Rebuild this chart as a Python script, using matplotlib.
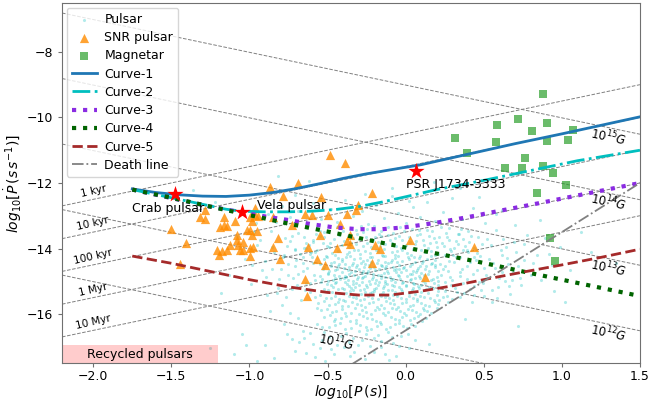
import numpy as np
import matplotlib
matplotlib.use("Agg")
import matplotlib.pyplot as plt

# ---- data ----
# evolutionary curves: log10 P, log10 Pdot
c1_p = [-1.75, -1.6, -1.45, -1.3, -1.15, -1.0, -0.85, -0.7, -0.55, -0.4, -0.25, -0.1, 0.1, 0.4, 0.7, 1.0, 1.25, 1.5]
c1_pd = [-12.18, -12.29, -12.36, -12.40, -12.41, -12.37, -12.29, -12.17, -12.02, -11.86, -11.72, -11.60, -11.44, -11.12, -10.80, -10.50, -10.24, -9.98]

c2_p = [-1.75, -1.6, -1.45, -1.3, -1.15, -1.05, -0.9, -0.75, -0.6, -0.45, -0.3, -0.15, 0.0, 0.2, 0.5, 0.8, 1.1, 1.5]
c2_pd = [-12.2, -12.35, -12.5, -12.65, -12.8, -12.86, -12.88, -12.88, -12.86, -12.81, -12.72, -12.58, -12.42, -12.2, -11.92, -11.62, -11.32, -11.0]

c3_p = [-1.75, -1.5, -1.25, -1.05, -0.9, -0.75, -0.6, -0.45, -0.3, -0.15, 0.0, 0.2, 0.4, 0.6, 0.86, 1.1, 1.3, 1.5]
c3_pd = [-12.2, -12.46, -12.72, -12.9, -13.02, -13.13, -13.26, -13.36, -13.41, -13.41, -13.35, -13.21, -13.04, -12.85, -12.61, -12.38, -12.19, -12.0]

c4_p = [-1.75, -1.5, -1.25, -1.0, -0.75, -0.5, -0.25, 0.0, 0.25, 0.5, 0.75, 1.0, 1.25, 1.5]
c4_pd = [-12.2, -12.45, -12.72, -12.98, -13.24, -13.48, -13.73, -13.97, -14.2, -14.44, -14.7, -14.95, -15.2, -15.45]

c5_p = [-1.75, -1.5, -1.25, -1.0, -0.75, -0.5, -0.3, -0.1, 0.1, 0.3, 0.5, 0.75, 1.0, 1.25, 1.5]
c5_pd = [-14.23, -14.45, -14.7, -14.95, -15.17, -15.34, -15.42, -15.42, -15.3, -15.14, -14.95, -14.72, -14.5, -14.27, -14.02]

death_p = [-2.2, 1.5]
death_pd = [-23.1, -12.0]

# named pulsars
star_names = ["Crab pulsar", "Vela pulsar", "PSR J1734-3333"]
star_p = [-1.476, -1.05, 0.066]
star_pd = [-12.34, -12.87, -11.62]

# magnetars
mag_p = [0.877, 0.717, 0.583, 0.907, 0.811, 1.074, 0.316, 0.576, 0.907, 1.041,
         0.395, 0.762, 0.638, 0.745, 0.881, 0.941, 1.027, 0.843, 0.924, 0.958]
mag_pd = [-9.27, -10.04, -10.23, -10.18, -10.41, -10.38, -10.63, -10.74, -10.71, -10.70,
          -11.09, -11.23, -11.55, -11.55, -11.47, -11.69, -12.06, -12.31, -13.67, -14.38]

# pulsars with SNR association
snr_p = [-0.484, -0.388, -0.868, -0.689, -0.785, -0.542, -0.215, -0.305, -0.964, -1.284,
         -1.317, -1.284, -1.163, -1.163, -1.092, -0.996, -0.964, -0.984, -0.945, -0.849,
         -0.644, -0.599, -0.497, -0.375, -0.420, -0.728, -0.548, -0.356, -0.996, -0.984,
         -0.952, -0.817, -0.375, -0.849, -0.625, -0.439, -1.060, -0.996, -0.804, -0.516,
         -0.644, -0.631, 0.028, -0.196, -0.164, -0.215, 0.124, 0.438, -1.502, -1.406,
         -1.445, -1.188, -1.144, -1.016, -1.080, -1.208, -1.144, -1.041, -0.977, -1.080,
         -1.041, -1.124, -1.073, -1.176, -1.195, -0.567, -0.356, -0.318, -0.996]
snr_pd = [-11.14, -11.38, -12.11, -11.99, -12.39, -12.42, -12.30, -12.66, -12.75, -12.81,
          -13.05, -13.09, -13.05, -13.27, -13.17, -13.05, -12.99, -13.17, -13.02, -13.05,
          -12.94, -12.97, -12.97, -12.94, -13.24, -13.27, -13.58, -13.58, -13.42, -13.58,
          -13.45, -13.67, -13.76, -13.94, -13.94, -13.97, -14.03, -13.97, -14.33, -14.49,
          -14.92, -15.44, -13.73, -13.88, -14.00, -14.43, -14.86, -13.94, -13.39, -13.82,
          -14.46, -13.33, -13.30, -13.42, -13.73, -14.03, -14.03, -14.03, -13.94, -13.58,
          -13.79, -13.88, -13.88, -14.09, -14.19, -14.33, -13.85, -12.81, -14.22]

# ordinary pulsars (log P, log Pdot), read region by region
pulsar_pts = [
    (-0.52, -14.33), (-0.41, -14.37), (-0.33, -14.31), (-0.27, -14.39), (-0.18, -14.34), (-0.09, -14.36),
    (0.02, -14.32), (0.11, -14.38), (0.19, -14.35), (-0.46, -14.40), (-0.22, -14.42), (0.06, -14.41),
    (-0.55, -14.47), (-0.48, -14.52), (-0.39, -14.46), (-0.31, -14.51), (-0.26, -14.47), (-0.15, -14.53),
    (-0.11, -14.45), (-0.04, -14.50), (0.04, -14.48), (0.13, -14.54), (0.22, -14.46), (-0.36, -14.56),
    (-0.20, -14.57), (-0.01, -14.56), (0.08, -14.58), (-0.53, -14.63), (-0.44, -14.61), (-0.37, -14.66),
    (-0.30, -14.62), (-0.24, -14.68), (-0.17, -14.63), (-0.12, -14.69), (-0.06, -14.62), (0.00, -14.67),
    (0.07, -14.64), (0.15, -14.70), (0.24, -14.62), (-0.41, -14.72), (-0.28, -14.74), (-0.14, -14.76),
    (-0.03, -14.73), (0.10, -14.75), (-0.50, -14.77), (-0.55, -14.84), (-0.46, -14.81), (-0.38, -14.86),
    (-0.33, -14.80), (-0.26, -14.83), (-0.21, -14.88), (-0.16, -14.81), (-0.10, -14.86), (-0.05, -14.80),
    (0.01, -14.85), (0.06, -14.89), (0.12, -14.82), (0.20, -14.87), (-0.42, -14.92), (-0.31, -14.94),
    (-0.19, -14.96), (-0.08, -14.93), (0.03, -14.97), (0.16, -14.95), (-0.50, -14.98), (-0.54, -15.03),
    (-0.45, -15.06), (-0.39, -15.01), (-0.34, -15.08), (-0.28, -15.02), (-0.23, -15.07), (-0.17, -15.03),
    (-0.12, -15.09), (-0.07, -15.02), (-0.02, -15.06), (0.05, -15.04), (0.10, -15.10), (0.18, -15.05),
    (0.25, -15.01), (-0.48, -15.12), (-0.36, -15.14), (-0.25, -15.16), (-0.14, -15.13), (-0.04, -15.17),
    (0.08, -15.15), (-0.52, -15.22), (-0.43, -15.25), (-0.35, -15.21), (-0.29, -15.27), (-0.20, -15.23),
    (-0.11, -15.28), (-0.03, -15.22), (0.04, -15.26), (0.13, -15.24), (0.21, -15.29), (-0.47, -15.33),
    (-0.38, -15.36), (-0.26, -15.32), (-0.16, -15.38), (-0.07, -15.34), (0.02, -15.37), (0.10, -15.33),
    (-0.32, -15.41), (-0.12, -15.43), (0.06, -15.40),
    (-0.34, -14.43), (-0.13, -14.41), (0.17, -14.43), (-0.23, -14.59), (-0.08, -14.55), (0.19, -14.57),
    (-0.35, -14.71), (-0.21, -14.78), (0.04, -14.79), (-0.28, -14.91), (-0.13, -14.99), (-0.37, -14.97),
    (0.11, -14.99), (-0.30, -15.11), (-0.19, -15.19), (-0.09, -15.11), (0.15, -15.17), (-0.41, -15.19),
    (-0.23, -15.35), (0.00, -15.12), (-0.45, -14.89), (-0.06, -14.71), (0.09, -14.52), (-0.49, -14.69),
    (-0.16, -14.49),
    (-0.505, -14.255), (-0.435, -14.275), (-0.355, -14.235), (-0.295, -14.285), (-0.215, -14.265),
    (-0.145, -14.225), (-0.065, -14.295), (0.015, -14.245), (0.085, -14.275), (0.165, -14.215),
    (-0.475, -14.445), (-0.425, -14.485), (-0.345, -14.505), (-0.285, -14.435), (-0.235, -14.515),
    (-0.185, -14.455), (-0.125, -14.535), (-0.055, -14.425), (0.025, -14.525), (0.105, -14.445), (0.185, -14.505),
    (-0.525, -14.555), (-0.455, -14.655), (-0.395, -14.595), (-0.325, -14.685), (-0.265, -14.575),
    (-0.195, -14.645), (-0.135, -14.585), (-0.075, -14.665), (-0.015, -14.605), (0.045, -14.695),
    (0.125, -14.625), (0.205, -14.675), (-0.495, -14.745), (-0.425, -14.825), (-0.365, -14.765),
    (-0.305, -14.855), (-0.245, -14.735), (-0.175, -14.805), (-0.115, -14.745), (-0.045, -14.835),
    (0.025, -14.765), (0.085, -14.845), (0.145, -14.785), (0.225, -14.805), (-0.535, -14.925),
    (-0.465, -14.965), (-0.395, -14.905), (-0.335, -14.985), (-0.275, -14.875), (-0.215, -14.945),
    (-0.155, -14.895), (-0.095, -14.975), (-0.035, -14.915), (0.035, -14.935), (0.095, -14.905),
    (0.175, -14.925), (-0.505, -15.075), (-0.445, -15.015), (-0.375, -15.095), (-0.315, -15.045),
    (-0.255, -15.115), (-0.195, -15.055), (-0.135, -15.065), (-0.075, -15.135), (-0.015, -15.025),
    (0.055, -15.085), (0.125, -15.045), (0.205, -15.115), (-0.465, -15.185), (-0.395, -15.245),
    (-0.325, -15.175), (-0.265, -15.235), (-0.205, -15.285), (-0.145, -15.205), (-0.085, -15.255),
    (-0.025, -15.295), (0.045, -15.195), (0.115, -15.275), (0.175, -15.215), (-0.425, -15.345),
    (-0.355, -15.305), (-0.285, -15.375), (-0.215, -15.325), (-0.145, -15.315), (-0.055, -15.385),
    (0.035, -15.315), (0.145, -15.365), (-0.405, -14.325), (-0.245, -14.365), (-0.025, -14.385),
    (0.135, -14.325), (-0.315, -14.575), (-0.045, -14.625), (0.165, -14.465), (-0.385, -14.825),
    (-0.135, -14.865), (0.065, -14.725), (-0.235, -14.985), (0.005, -15.155), (-0.335, -15.265),
    (-0.175, -15.105), (0.085, -15.215), (-0.495, -15.275), (-0.275, -14.695), (-0.095, -14.405),
    (0.205, -14.985), (-0.435, -14.545),
    (-0.78, -14.21), (-0.71, -14.05), (-0.66, -14.27), (-0.62, -13.88), (-0.58, -14.12), (-0.55, -13.62),
    (-0.51, -14.23), (-0.49, -13.95), (-0.46, -13.71), (-0.43, -14.09), (-0.40, -13.48), (-0.38, -14.26),
    (-0.35, -13.83), (-0.33, -14.03), (-0.31, -13.57), (-0.29, -14.17), (-0.27, -13.92), (-0.25, -13.41),
    (-0.23, -14.25), (-0.21, -13.74), (-0.19, -14.06), (-0.17, -13.55), (-0.15, -14.19), (-0.13, -13.86),
    (-0.11, -13.35), (-0.09, -14.11), (-0.07, -13.67), (-0.05, -14.24), (-0.03, -13.97), (-0.01, -13.46),
    (0.01, -14.14), (0.03, -13.79), (0.05, -14.02), (0.07, -13.58), (0.09, -14.22), (0.12, -13.88),
    (0.14, -13.44), (0.16, -14.07), (0.18, -13.69), (0.21, -14.18), (0.23, -13.83), (0.26, -13.52),
    (0.29, -14.09), (0.32, -13.76), (0.35, -14.25), (0.38, -13.93), (0.42, -13.61), (0.46, -14.13),
    (0.49, -13.85), (-0.74, -13.77), (-0.69, -13.52), (-0.61, -14.18), (-0.53, -13.84), (-0.47, -14.15),
    (-0.41, -13.89), (-0.36, -14.12), (-0.30, -13.72), (-0.26, -14.08), (-0.22, -13.94), (-0.18, -13.81),
    (-0.14, -14.02), (-0.10, -13.73), (-0.06, -13.91), (-0.02, -14.06), (0.02, -13.64), (0.06, -13.87),
    (0.10, -14.04), (0.15, -13.61), (0.20, -13.96), (0.25, -14.21), (0.31, -13.98), (0.37, -13.71),
    (0.44, -14.27), (-0.57, -13.38), (-0.44, -13.33), (-0.32, -13.43), (-0.20, -13.31), (-0.08, -13.52),
    (0.04, -13.39), (0.17, -13.47), (0.28, -13.36), (0.40, -13.45), (-0.65, -13.66), (-0.52, -13.50),
    (-0.37, -13.62), (-0.16, -13.63), (0.11, -13.74), (0.34, -13.57),
    (-0.635, -13.985), (-0.595, -13.725), (-0.565, -14.045), (-0.525, -13.655), (-0.485, -13.825),
    (-0.455, -14.195), (-0.425, -13.575), (-0.395, -13.765), (-0.365, -13.955), (-0.335, -13.685),
    (-0.305, -14.055), (-0.275, -13.495), (-0.245, -13.825), (-0.225, -14.135), (-0.195, -13.635),
    (-0.165, -13.915), (-0.135, -14.215), (-0.115, -13.585), (-0.085, -13.835), (-0.055, -14.075),
    (-0.025, -13.725), (0.005, -13.905), (0.035, -14.195), (0.065, -13.775), (0.095, -13.545),
    (0.125, -14.115), (0.155, -13.845), (0.185, -14.205), (0.215, -13.635), (0.245, -13.925),
    (0.275, -13.745), (0.305, -14.185), (0.335, -13.865), (0.365, -14.045), (0.405, -13.795),
    (0.435, -13.975), (-0.545, -13.455), (-0.415, -13.385), (-0.285, -13.325), (-0.155, -13.455),
    (-0.035, -13.355), (0.085, -13.425), (0.225, -13.335), (0.355, -13.415), (-0.605, -14.105),
    (-0.505, -13.925), (-0.375, -14.155), (-0.255, -13.635), (-0.045, -13.605), (0.145, -13.985),
    (0.285, -14.025), (-0.175, -14.085), (-0.065, -14.185), (0.055, -14.245), (-0.315, -13.855),
    (0.195, -13.795),
    (-0.96, -13.22), (-0.88, -12.95), (-0.83, -13.18), (-0.79, -12.71), (-0.74, -13.05), (-0.69, -12.86),
    (-0.63, -13.27), (-0.59, -12.62), (-0.54, -13.11), (-0.48, -12.79), (-0.44, -13.19), (-0.39, -12.53),
    (-0.34, -13.02), (-0.28, -12.84), (-0.24, -13.24), (-0.19, -12.68), (-0.14, -13.07), (-0.09, -12.41),
    (-0.05, -12.93), (0.00, -13.21), (0.05, -12.72), (0.09, -13.04), (0.14, -12.57), (0.19, -13.16),
    (0.24, -12.88), (0.30, -12.46), (0.36, -13.09), (0.43, -12.77), (0.51, -13.23), (0.58, -12.96),
    (-0.71, -12.38), (-0.26, -12.33), (0.12, -12.29), (-0.55, -12.51), (0.02, -12.55),
    (-0.58, -15.47), (-0.51, -15.52), (-0.45, -15.45), (-0.40, -15.56), (-0.34, -15.49), (-0.29, -15.58),
    (-0.24, -15.46), (-0.18, -15.54), (-0.13, -15.48), (-0.08, -15.57), (-0.03, -15.51), (0.02, -15.46),
    (0.07, -15.55), (0.12, -15.49), (0.18, -15.58), (0.24, -15.47), (0.30, -15.53), (-0.56, -15.66),
    (-0.49, -15.72), (-0.43, -15.63), (-0.37, -15.75), (-0.31, -15.68), (-0.26, -15.79), (-0.21, -15.64),
    (-0.16, -15.73), (-0.10, -15.67), (-0.05, -15.78), (0.00, -15.62), (0.05, -15.71), (0.10, -15.65),
    (0.15, -15.76), (0.21, -15.69), (0.27, -15.63), (-0.54, -15.88), (-0.47, -15.94), (-0.41, -15.85),
    (-0.35, -15.97), (-0.28, -15.89), (-0.22, -15.99), (-0.17, -15.86), (-0.11, -15.93), (-0.06, -15.84),
    (-0.01, -15.96), (0.04, -15.88), (0.09, -15.99), (0.14, -15.91), (0.20, -15.83), (-0.52, -16.09),
    (-0.45, -16.15), (-0.38, -16.06), (-0.32, -16.18), (-0.25, -16.11), (-0.19, -16.21), (-0.13, -16.04),
    (-0.07, -16.14), (-0.02, -16.08), (0.03, -16.19), (0.08, -16.05), (0.13, -16.12), (-0.57, -16.31),
    (-0.49, -16.38), (-0.42, -16.27), (-0.35, -16.42), (-0.29, -16.33), (-0.22, -16.46), (-0.16, -16.29),
    (-0.10, -16.39), (-0.04, -16.26), (0.01, -16.44), (0.06, -16.35), (-0.39, -15.61), (-0.14, -15.83),
    (0.11, -15.81), (-0.30, -16.01), (-0.08, -15.41), (0.20, -15.42), (-0.46, -16.22),
    (-0.545, -15.425), (-0.475, -15.505), (-0.425, -15.535), (-0.365, -15.445), (-0.315, -15.525),
    (-0.265, -15.555), (-0.215, -15.495), (-0.155, -15.445), (-0.105, -15.525), (-0.055, -15.455),
    (0.005, -15.545), (0.045, -15.495), (0.095, -15.435), (0.155, -15.515), (0.215, -15.565),
    (0.265, -15.455), (-0.525, -15.605), (-0.455, -15.685), (-0.405, -15.745), (-0.345, -15.625),
    (-0.285, -15.715), (-0.235, -15.655), (-0.185, -15.775), (-0.125, -15.605), (-0.075, -15.705),
    (-0.025, -15.655), (0.025, -15.765), (0.075, -15.615), (0.125, -15.725), (0.185, -15.635),
    (-0.505, -15.835), (-0.445, -15.905), (-0.385, -15.955), (-0.325, -15.825), (-0.255, -15.935),
    (-0.195, -15.875), (-0.145, -15.975), (-0.085, -15.815), (-0.035, -15.905), (0.015, -15.855),
    (0.065, -15.935), (0.115, -15.865), (0.165, -15.955), (-0.485, -16.035), (-0.415, -16.125),
    (-0.355, -16.225), (-0.275, -16.065), (-0.215, -16.155), (-0.165, -16.255), (-0.095, -16.075),
    (-0.045, -16.185), (0.005, -16.035), (0.055, -16.135), (0.105, -16.215), (-0.535, -16.405),
    (-0.455, -16.345), (-0.385, -16.445), (-0.315, -16.285), (-0.255, -16.395), (-0.185, -16.355),
    (-0.125, -16.445), (-0.065, -16.315), (-0.015, -16.375), (0.035, -16.295),
    (-0.76, -16.62), (-0.68, -16.85), (-0.61, -16.57), (-0.55, -17.04), (-0.49, -16.71), (-0.44, -16.93),
    (-0.38, -16.58), (-0.33, -17.15), (-0.28, -16.79), (-0.23, -16.98), (-0.18, -16.64), (-0.13, -17.21),
    (-0.08, -16.87), (-0.03, -16.66), (0.02, -17.05), (-0.71, -17.12), (-0.58, -17.31), (-0.46, -17.22),
    (-0.36, -16.86), (-0.26, -17.36), (-0.16, -17.02), (-0.06, -17.28), (-0.52, -16.55), (-0.30, -16.52),
    (-0.11, -16.55), (-0.90, -16.95), (-0.84, -17.35), (-0.65, -16.72), (0.06, -16.80), (-0.20, -16.73),
    (-0.725, -16.765), (-0.655, -16.525), (-0.595, -16.905), (-0.535, -16.785), (-0.475, -17.075),
    (-0.415, -16.655), (-0.355, -17.285), (-0.305, -16.935), (-0.255, -16.615), (-0.205, -17.155),
    (-0.155, -16.815), (-0.105, -17.395), (-0.045, -16.965), (0.015, -16.595), (-0.635, -17.185),
    (-0.515, -17.445), (-0.395, -17.015), (-0.245, -16.485), (-0.085, -16.705), (-0.335, -16.725),
    (-1.08, -13.62), (-1.03, -14.31), (-0.99, -15.07), (-0.95, -13.88), (-0.92, -14.66), (-0.89, -15.42),
    (-0.86, -13.45), (-0.84, -14.12), (-0.81, -14.93), (-0.79, -15.71), (-0.77, -13.69), (-0.75, -14.47),
    (-0.73, -15.24), (-0.71, -14.02), (-0.69, -14.79), (-0.67, -15.56), (-0.65, -13.97), (-0.63, -14.58),
    (-0.61, -15.33), (-0.60, -14.26), (-0.58, -14.95), (-0.57, -15.81), (-0.90, -14.38), (-0.82, -15.19),
    (-0.76, -13.93), (-0.70, -14.34), (-0.64, -15.05), (-0.97, -13.51), (-1.13, -14.82), (-0.87, -15.91),
    (-0.74, -15.96), (-0.66, -14.43), (-0.59, -13.79), (-0.80, -14.63), (-0.72, -14.91),
    (-0.985, -14.515), (-0.935, -13.735), (-0.895, -14.855), (-0.855, -13.965), (-0.825, -15.365),
    (-0.785, -14.245), (-0.755, -14.805), (-0.725, -13.605), (-0.695, -15.125), (-0.675, -14.165),
    (-0.655, -14.695), (-0.635, -13.845), (-0.615, -15.045), (-0.595, -14.435), (-0.575, -13.565),
    (-0.855, -14.635), (-0.765, -15.485), (-0.705, -14.545), (-0.645, -15.275), (-0.585, -14.815),
    (0.27, -14.68), (0.29, -15.12), (0.31, -14.41), (0.33, -15.33), (0.35, -14.84), (0.37, -15.06),
    (0.39, -14.52), (0.41, -15.24), (0.43, -14.77), (0.45, -14.36), (0.47, -15.02), (0.50, -14.59),
    (0.53, -14.91), (0.56, -14.43), (0.59, -15.18), (0.62, -14.71), (0.65, -14.29), (0.68, -14.97),
    (0.72, -14.54), (0.76, -13.87), (0.80, -14.82), (0.84, -14.21), (0.89, -13.68), (0.94, -14.51),
    (0.99, -13.94), (1.05, -14.64), (1.12, -13.51), (1.19, -14.12), (0.52, -13.71), (0.58, -13.42),
    (0.64, -13.96), (0.70, -13.28), (0.78, -13.59), (0.86, -13.13), (0.30, -14.95), (0.36, -14.62),
    (0.44, -15.41), (0.55, -15.63), (0.67, -15.39), (0.48, -15.27), (0.28, -14.39), (0.40, -14.12),
    (0.61, -14.05), (0.74, -15.12), (0.95, -15.31),
    (0.255, -14.525), (0.285, -14.855), (0.315, -15.215), (0.325, -14.265), (0.345, -14.725),
    (0.375, -15.365), (0.395, -14.935), (0.415, -14.425), (0.435, -15.135), (0.455, -14.655),
    (0.475, -14.225), (0.495, -15.045), (0.515, -14.805), (0.535, -14.315), (0.555, -15.265),
    (0.575, -14.585), (0.595, -14.885), (0.615, -14.185), (0.635, -15.005), (0.655, -14.475),
    (0.685, -14.725), (0.705, -14.095), (0.735, -14.895), (0.755, -14.355), (0.265, -13.635),
    (0.335, -13.545), (0.395, -14.035), (0.465, -13.645), (0.545, -13.885), (0.625, -13.705),
    (0.695, -13.805), (0.255, -15.305), (0.345, -15.485), (0.425, -15.645), (0.505, -15.455),
    (0.585, -15.525), (0.665, -15.155), (0.815, -14.455), (0.865, -14.955), (0.915, -14.155),
    (-1.36, -12.21), (-1.22, -12.58), (-0.82, -11.79), (-0.09, -12.15), (-0.62, -11.95), (0.18, -11.98),
    (0.47, -12.42), (0.62, -12.81), (0.35, -12.15), (1.02, -15.62), (1.35, -14.45), (0.72, -16.35),
    (-1.18, -15.35), (-1.05, -16.62), (-1.25, -17.05), (-0.95, -17.42), (0.15, -16.92), (0.38, -16.15),
    (-1.02, -16.93), (-1.10, -17.22), (-0.78, -16.31), (-0.69, -16.12),
]

# reference lines
bfield_exp = [11, 12, 13, 14, 15]
age_labels = ["1 kyr", "10 kyr", "100 kyr", "1 Myr", "10 Myr"]
age_years = [1e3, 1e4, 1e5, 1e6, 1e7]

xlim = (-2.2, 1.5)
ylim = (-17.5, -6.5)

fig = plt.figure(figsize=(6.49, 4.04), dpi=100)
ax = fig.add_subplot(111)
fig.subplots_adjust(left=0.0955, right=0.986, top=0.993, bottom=0.101)

xx = np.array(xlim)
# constant field lines, B = 3.2e19 sqrt(P Pdot)
for e in bfield_exp:
    ax.plot(xx, 2 * e - 2 * np.log10(3.2e19) - xx, ls="--", color="gray", lw=0.7, zorder=0)
    if e == 11:
        lx = -0.44
    else:
        lx = 1.3
    ly = 2 * e - 2 * np.log10(3.2e19) - lx - 0.28
    ax.text(lx, ly, r"$10^{%d}G$" % e, rotation=-12, fontsize=8.5, ha="center", va="center")

# characteristic age lines, tau = P / Pdot
for lab, t in zip(age_labels, age_years):
    ax.plot(xx, xx - np.log10(t * 3.15e7), ls="--", color="gray", lw=0.7, zorder=0)
    ax.text(-2.0, -2.0 - np.log10(t * 3.15e7) + 0.25, lab, rotation=13, fontsize=7.5, ha="center", va="center")

pp = np.array(pulsar_pts)
ax.scatter(pp[:, 0], pp[:, 1], s=5, color="c", alpha=0.3, marker="o", lw=0, label="Pulsar")
ax.scatter(snr_p, snr_pd, s=44, color="darkorange", alpha=0.8, marker="^", lw=0, label="SNR pulsar")
ax.scatter(mag_p, mag_pd, s=38, color="tab:green", alpha=0.7, marker="s", lw=0, label="Magnetar")

ax.plot(c1_p, c1_pd, "-", color="tab:blue", lw=2, label="Curve-1")
ax.plot(c2_p, c2_pd, "-.", color="c", lw=2, label="Curve-2")
ax.plot(c3_p, c3_pd, ":", color="blueviolet", lw=3, label="Curve-3")
ax.plot(c4_p, c4_pd, ":", color="darkgreen", lw=3, label="Curve-4")
ax.plot(c5_p, c5_pd, "--", color="brown", lw=2, label="Curve-5")
ax.plot(death_p, death_pd, "-.", color="gray", lw=1.3, label="Death line")

ax.scatter(star_p, star_pd, s=150, color="red", marker="*", lw=0, zorder=5)
ax.text(-1.75, -12.79, star_names[0], fontsize=9, ha="left", va="center")
ax.text(-0.95, -12.70, star_names[1], fontsize=9, ha="left", va="center")
ax.text(0.0, -12.05, star_names[2], fontsize=9, ha="left", va="center")

# recycled pulsar region
ax.fill_between([-2.2, -1.2], -17.5, -16.95, color="red", alpha=0.2, lw=0)
ax.text(-1.7, -17.22, "Recycled pulsars", fontsize=9, ha="center", va="center")

ax.set_xlim(xlim)
ax.set_ylim(ylim)
ax.set_xticks([-2.0, -1.5, -1.0, -0.5, 0.0, 0.5, 1.0, 1.5])
ax.set_yticks([-16, -14, -12, -10, -8])
for s in ax.spines.values():
    s.set_color("#707070")
ax.tick_params(labelsize=9, length=3, color="#707070")
ax.tick_params(axis="x", pad=2)
ax.set_xlabel(r"$log_{10}[P\,(s)]$", fontsize=10, labelpad=0)
ax.set_ylabel(r"$log_{10}[\dot{P}\,(s\,s^{-1})]$", fontsize=10, labelpad=1.5)
ax.legend(loc="upper left", fontsize=9, borderaxespad=0.4, handletextpad=0.6, labelspacing=0.42)

fig.savefig("out.png", dpi=100)
